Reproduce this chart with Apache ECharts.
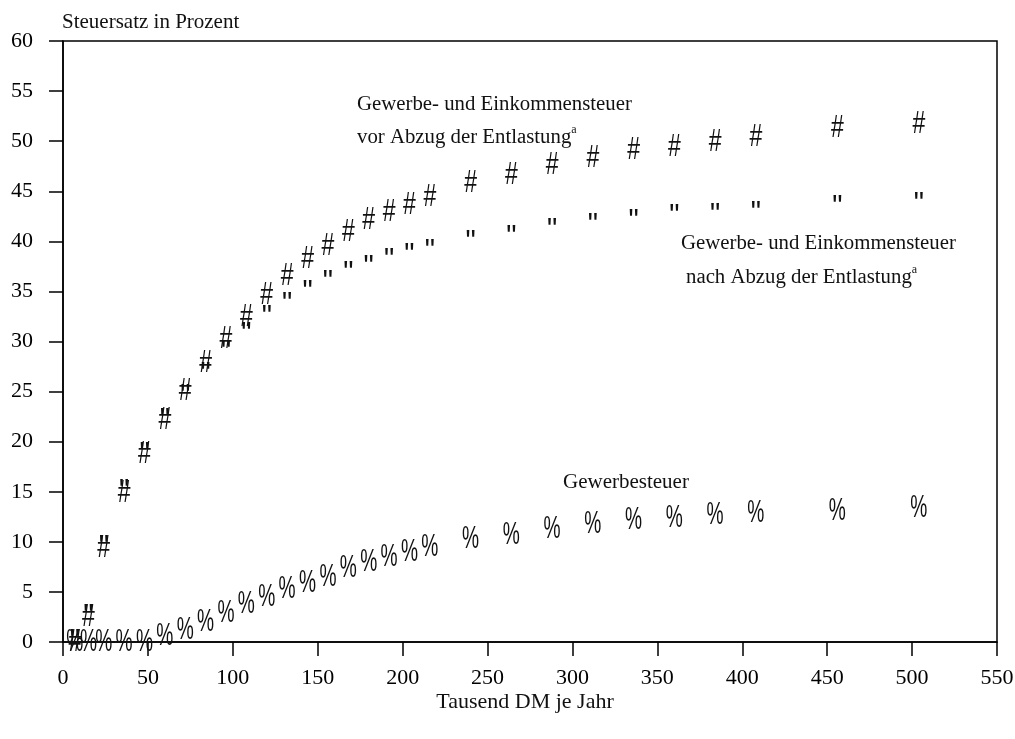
<!DOCTYPE html>
<html>
<head>
<meta charset="utf-8">
<script src="https://cdn.jsdelivr.net/npm/echarts@6/dist/echarts.min.js"></script>
<style>
html,body{margin:0;padding:0;background:#fff;}
#chart{width:1015px;height:739px;}
</style>
</head>
<body>
<div id="chart"></div>
<script>
// ---- data ----
var incomes = [7,15,24,36,48,60,72,84,96,108,120,132,144,156,168,180,192,204,216,240,264,288,312,336,360,384,408,456,504];
var vorEntlastung = [0,2.5,9.35,14.9,18.8,22.1,25.0,27.8,30.2,32.4,34.6,36.5,38.2,39.5,40.9,42.1,42.9,43.6,44.4,45.8,46.6,47.6,48.3,49.1,49.4,49.9,50.4,51.3,51.7];
var nachEntlastung = [0,2.5,9.4,15.0,18.7,22.0,24.4,26.6,28.8,30.6,32.3,33.6,34.8,35.8,36.7,37.3,38.0,38.5,38.9,39.8,40.3,41.0,41.5,41.9,42.4,42.5,42.7,43.3,43.6];
var gewerbesteuer = [0,0,0,0,0,0.6,1.2,2.0,2.9,3.8,4.5,5.3,5.9,6.5,7.4,8.0,8.5,9.0,9.5,10.3,10.7,11.3,11.8,12.2,12.4,12.7,12.9,13.1,13.4];
var xTicks = [0,50,100,150,200,250,300,350,400,450,500,550];
var yTicks = [0,5,10,15,20,25,30,35,40,45,50,55,60];

var serif = "'Liberation Serif','Times New Roman',serif";
var sans = "'Liberation Sans',Arial,sans-serif";

function pairs(xs, ys){ return xs.map(function(x,i){ return [x, ys[i]]; }); }

function glyphSeries(name, values, glyph, sx){
  return {
    name: name,
    type: 'custom',
    coordinateSystem: 'cartesian2d',
    data: pairs(incomes, values),
    encode: {x: 0, y: 1},
    clip: false,
    renderItem: function(params, api){
      var p = api.coord([api.value(0), api.value(1)]);
      return {
        type: 'text',
        x: p[0], y: p[1],
        scaleX: sx, scaleY: 1,
        style: {
          text: glyph, x: 0, y: 0,
          align: 'center', verticalAlign: 'middle',
          fontSize: 32, fontFamily: sans, fill: '#111'
        }
      };
    }
  };
}

var chart = echarts.init(document.getElementById('chart'), null, {renderer:'canvas'});
var rich = {
  m: {fontSize: 20.8, fontFamily: serif, fill: '#111', lineHeight: 24, verticalAlign: 'bottom'},
  s: {fontSize: 12, fontFamily: serif, fill: '#111', lineHeight: 24, verticalAlign: 'top'}
};
chart.setOption({
  animation: false,
  backgroundColor: '#fff',
  grid: {left: 63, right: 18, top: 41, bottom: 97, show: true, borderColor: '#000', borderWidth: 1.5, backgroundColor: 'transparent', containLabel: false, outerBoundsMode: 'none'},
  xAxis: {
    type: 'value', min: xTicks[0], max: xTicks[xTicks.length-1], interval: xTicks[1]-xTicks[0],
    axisLine: {show: true, lineStyle: {color: '#000', width: 1.5}},
    axisTick: {show: true, inside: false, length: 14, lineStyle: {color: '#000', width: 1.5}},
    axisLabel: {color: '#000', fontSize: 22, fontFamily: serif, margin: 25},
    splitLine: {show: false}
  },
  yAxis: {
    type: 'value', min: yTicks[0], max: yTicks[yTicks.length-1], interval: yTicks[1]-yTicks[0],
    axisLine: {show: true, lineStyle: {color: '#000', width: 1.5}},
    axisTick: {show: true, inside: false, length: 14, lineStyle: {color: '#000', width: 1.5}},
    axisLabel: {color: '#000', fontSize: 22, fontFamily: serif, margin: 30},
    splitLine: {show: false}
  },
  graphic: [
    {type:'text', x: 62, y: 22, style:{text:'Steuersatz in Prozent', fontSize: 21, fontFamily: serif, fill:'#111', verticalAlign:'middle', align:'left'}},
    {type:'text', x: 525, y: 702, style:{text:'Tausend DM je Jahr', fontSize: 22, fontFamily: serif, fill:'#111', verticalAlign:'middle', align:'center'}},
    {type:'text', x: 357, y: 105, style:{text:'Gewerbe- und Einkommensteuer', fontSize: 20.8, fontFamily: serif, fill:'#111', verticalAlign:'middle', align:'left'}},
    {type:'text', x: 357, y: 136, style:{text:'{m|vor Abzug der Entlastung}{s|a}', rich: rich, verticalAlign:'middle', align:'left'}},
    {type:'text', x: 681, y: 244, style:{text:'Gewerbe- und Einkommensteuer', fontSize: 20.8, fontFamily: serif, fill:'#111', verticalAlign:'middle', align:'left'}},
    {type:'text', x: 686, y: 276, style:{text:'{m|nach Abzug der Entlastung}{s|a}', rich: rich, verticalAlign:'middle', align:'left'}},
    {type:'text', x: 563, y: 482, style:{text:'Gewerbesteuer', fontSize: 21, fontFamily: serif, fill:'#111', verticalAlign:'middle', align:'left'}}
  ],
  series: [
    glyphSeries('Gewerbe- und Einkommensteuer nach Abzug der Entlastung', nachEntlastung, '"', 0.9),
    glyphSeries('Gewerbe- und Einkommensteuer vor Abzug der Entlastung', vorEntlastung, '#', 0.72),
    glyphSeries('Gewerbesteuer', gewerbesteuer, '%', 0.6)
  ]
});
</script>
</body>
</html>
